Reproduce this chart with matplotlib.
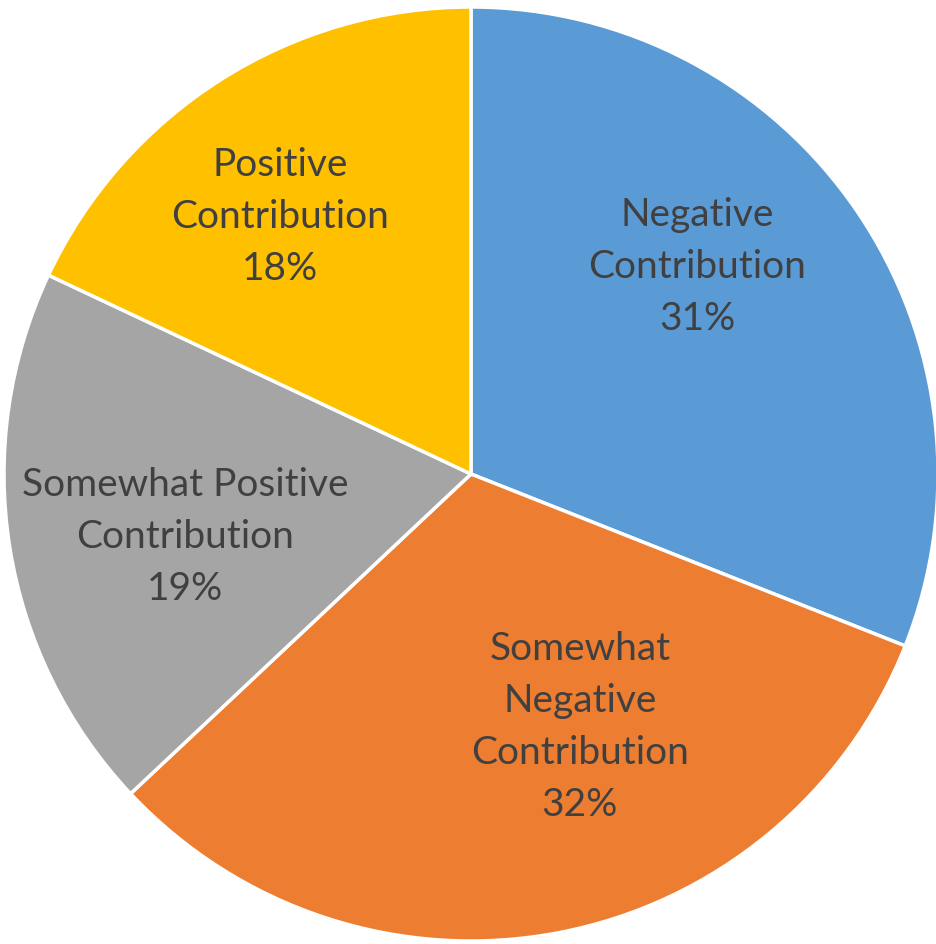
import matplotlib.pyplot as plt

categories = ['Negative\nContribution', 'Somewhat\nNegative\nContribution',
              'Somewhat Positive\nContribution', 'Positive\nContribution']
shares = [31, 32, 19, 18]
colors = ['#5B9BD5', '#ED7D31', '#A5A5A5', '#FFC000']

# label centres in pie units (radius = 1)
label_pos = [(0.484, 0.445), (0.233, -0.54), (-0.612, -0.133), (-0.409, 0.552)]

fig = plt.figure(figsize=(9.37, 9.45), dpi=100)
ax = fig.add_axes([4 / 937, 3 / 945, 934 / 937, 934 / 945])

ax.pie(shares, colors=colors, startangle=90, counterclock=False,
       radius=1, wedgeprops=dict(edgecolor='white', linewidth=2.5))

for name, val, (x, y) in zip(categories, shares, label_pos):
    ax.text(x, y, name + '\n' + str(val) + '%', ha='center', va='center',
            fontsize=28, color='#404040', family='Lato', linespacing=1.55)

ax.set_xlim(-1, 1)
ax.set_ylim(-1, 1)
ax.set_aspect('auto')
ax.axis('off')

fig.savefig('out.png', dpi=100)
